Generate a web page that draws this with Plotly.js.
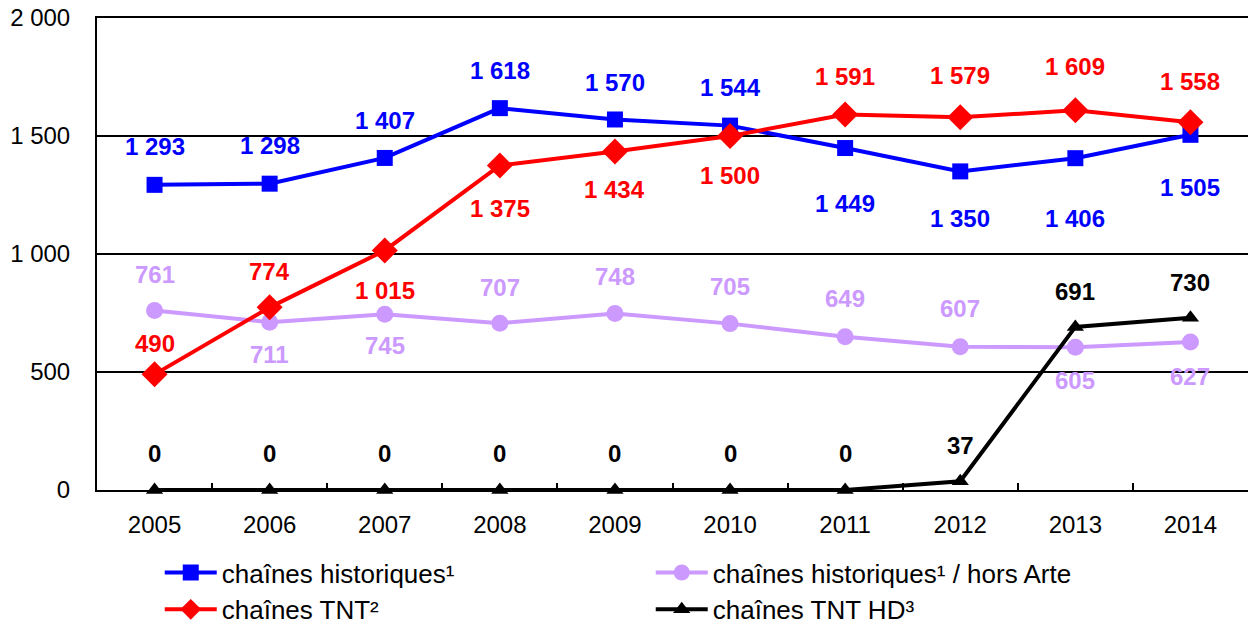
<!DOCTYPE html>
<html>
<head>
<meta charset="utf-8">
<script src="https://cdn.plot.ly/plotly-3.0.1.min.js"></script>
<style>
  html, body { margin: 0; padding: 0; background: #fff; }
  #chart { width: 1248px; height: 624px; }
</style>
</head>
<body>
<div id="chart"></div>
<script>
const years = ["2005", "2006", "2007", "2008", "2009", "2010", "2011", "2012", "2013", "2014"];

const historiques = [1293, 1298, 1407, 1618, 1570, 1544, 1449, 1350, 1406, 1505];
const historiquesHorsArte = [761, 711, 745, 707, 748, 705, 649, 607, 605, 627];
const tnt = [490, 774, 1015, 1375, 1434, 1500, 1591, 1579, 1609, 1558];
const tntHD = [0, 0, 0, 0, 0, 0, 0, 37, 691, 730];

const seriesNames = [
  "chaînes historiques¹",
  "chaînes historiques¹ / hors Arte",
  "chaînes TNT²",
  "chaînes TNT HD³",
];

const fontFam = "Liberation Sans, Arial, sans-serif";

// label offsets in px (negative = above the point)
const series = [
  { name: seriesNames[0], y: historiques, color: "#0000ff", symbol: "square", size: 16,
    shift: [-38, -38, -37, -38, -37, -38, 55, 47, 60, 53] },
  { name: seriesNames[1], y: historiquesHorsArte, color: "#cc99ff", symbol: "circle", size: 17,
    shift: [-36, 32, 31, -36, -37, -37, -38, -38, 33, 34] },
  { name: seriesNames[2], y: tnt, color: "#ff0000", symbol: "diamond", size: 20,
    shift: [-31, -36, 40, 43, 38, 39, -38, -42, -44, -41] },
  { name: seriesNames[3], y: tntHD, color: "#000000", symbol: "triangle-up", size: 15,
    shift: [-37, -37, -37, -37, -37, -37, -37, -36, -35, -35] },
];

function fmt(v) {
  return String(v).replace(/\B(?=(\d{3})+(?!\d))/g, " ");
}

const traces = series.map((s) => ({
  type: "scatter",
  mode: "lines+markers",
  name: s.name,
  x: years,
  y: s.y,
  line: { color: s.color, width: 4 },
  marker: { color: s.color, symbol: s.symbol, size: s.size },
  cliponaxis: false,
}));

const annotations = [];
series.forEach((s) => {
  s.y.forEach((v, i) => {
    annotations.push({
      x: i, y: v, xref: "x", yref: "y",
      text: "<b>" + fmt(v) + "</b>",
      showarrow: false,
      yshift: -s.shift[i],
      font: { family: fontFam, size: 24, color: s.color },
    });
  });
});

const layout = {
  width: 1248,
  height: 624,
  margin: { l: 97, r: 0, t: 18, b: 134, autoexpand: false },
  paper_bgcolor: "#fff",
  plot_bgcolor: "#fff",
  separators: ", ",
  font: { family: fontFam, size: 24, color: "#000" },
  showlegend: true,
  legend: {
    orientation: "h",
    xref: "container", yref: "container",
    x: 0.128, xanchor: "left",
    y: 0.12, yanchor: "top",
    entrywidth: 424,
    itemwidth: 52,
    font: { family: fontFam, size: 26, color: "#000" },
    traceorder: "normal",
  },
  xaxis: {
    type: "category",
    range: [-0.5, 9.5],
    showline: true, linecolor: "#000", linewidth: 2,
    mirror: true,
    ticks: "inside", tickson: "boundaries", ticklen: 7, tickcolor: "#000", tickwidth: 2,
    ticklabelstandoff: 12,
    showgrid: false,
    tickfont: { family: fontFam, size: 24, color: "#000" },
  },
  yaxis: {
    range: [0, 2000],
    tickvals: [0, 500, 1000, 1500, 2000],
    tickformat: ",d",
    showline: true, linecolor: "#000", linewidth: 2,
    showgrid: true, gridcolor: "#000", gridwidth: 2,
    zeroline: false,
    ticks: "",
    ticklabelstandoff: 20,
    tickfont: { family: fontFam, size: 24, color: "#000" },
  },
  annotations: annotations,
};

Plotly.newPlot("chart", traces, layout, { displayModeBar: false });
</script>
</body>
</html>
